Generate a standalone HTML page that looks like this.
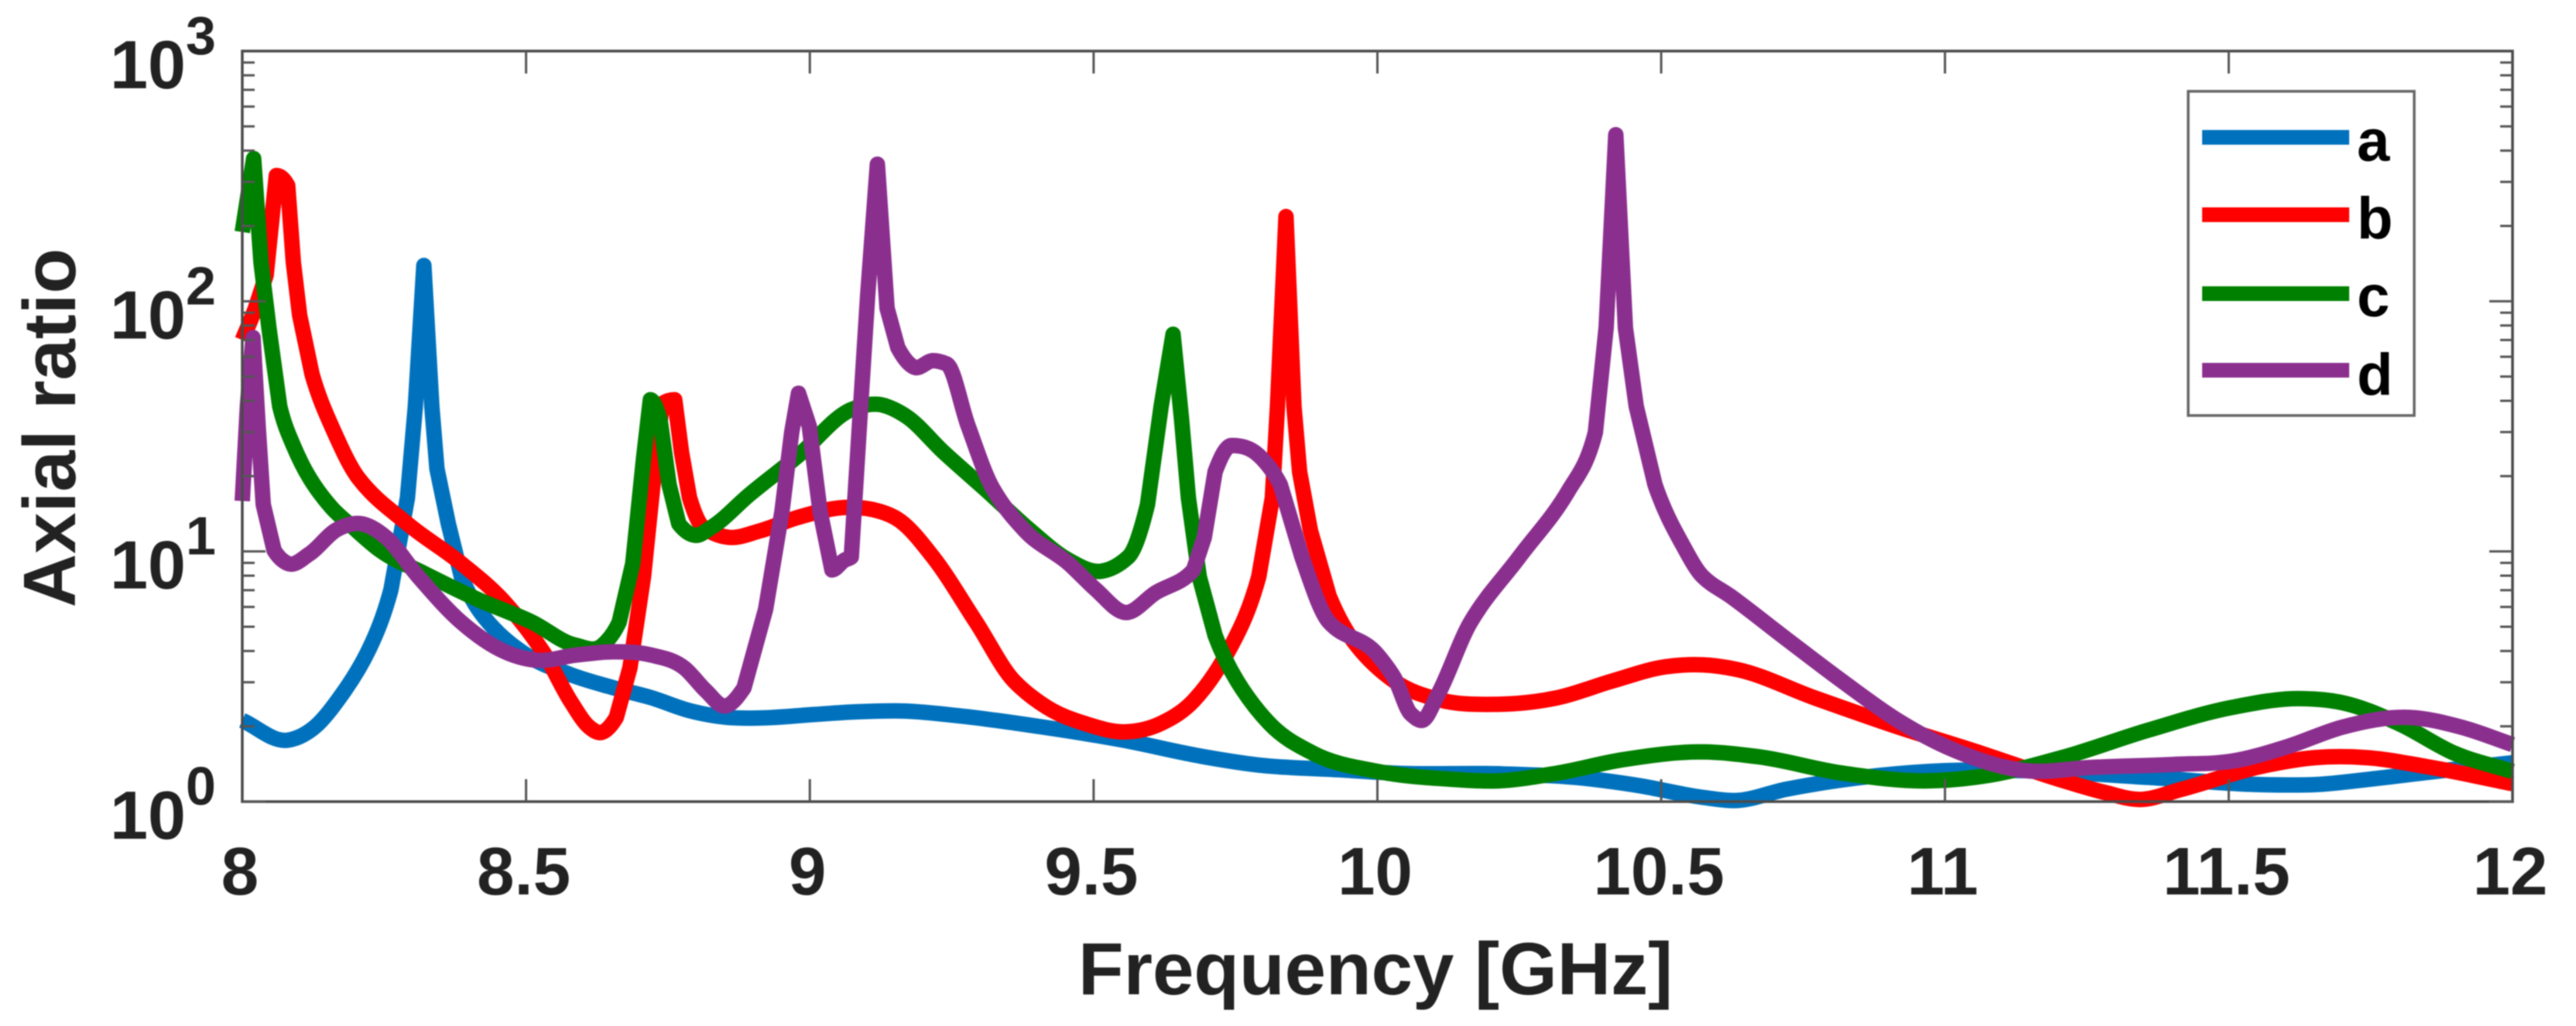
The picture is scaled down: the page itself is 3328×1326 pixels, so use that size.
<!DOCTYPE html>
<html lang="en">
<head>
<meta charset="utf-8">
<title>Axial ratio vs frequency</title>
<style>
html,body{margin:0;padding:0;background:#fff;width:3328px;height:1326px;overflow:hidden}
svg{display:block}
text{font-family:"Liberation Sans",Arial,sans-serif;font-weight:bold}
</style>
</head>
<body>
<svg id="chart" xmlns="http://www.w3.org/2000/svg" width="3328" height="1326" viewBox="0 0 3328 1326">
  <g id="content" style="filter:blur(0.9px)">
    <g id="series-layer"></g>
    <g id="axes-layer"></g>
    <g id="legend">
      <rect x="2827" y="118" width="292" height="419" fill="#fff" stroke="#666" stroke-width="3.5"/>
      <rect x="2845" y="168" width="190" height="19" fill="#0072BD"/>
      <rect x="2845" y="268" width="190" height="19" fill="#FF0000"/>
      <rect x="2845" y="370" width="190" height="19" fill="#008000"/>
      <rect x="2845" y="469" width="190" height="19" fill="#8B2F8F"/>
      <text x="3045" y="208" font-size="76" fill="#000">a</text>
      <text x="3045" y="308" font-size="76" fill="#000">b</text>
      <text x="3045" y="409" font-size="76" fill="#000">c</text>
      <text x="3045" y="510" font-size="76" fill="#000">d</text>
    </g>
    <text x="1777" y="1285" font-size="96" fill="#222" text-anchor="middle">Frequency [GHz]</text>
    <text transform="translate(97,553) rotate(-90)" font-size="96" fill="#222" text-anchor="middle">Axial ratio</text>
  </g>
</svg>
<script>
var xTicks = [8, 8.5, 9, 9.5, 10, 10.5, 11, 11.5, 12];
var xTickLabels = ["8", "8.5", "9", "9.5", "10", "10.5", "11", "11.5", "12"];
var yExponents = [0, 1, 2, 3];
var yTickBase = "10";

var freqA = [8,8.08,8.128,8.176,8.224,8.262,8.291,8.305,8.32,8.334,8.343,8.363,8.386,8.434,8.501,8.578,8.654,8.721,8.788,8.855,8.913,9.008,9.073,9.169,9.265,9.408,9.552,9.695,9.791,9.934,10.03,10.221,10.365,10.46,10.573,10.632,10.72,10.868,11,11.142,11.358,11.555,11.653,11.75,11.839,12];
var valsA = [2.11,1.76,1.99,2.69,4.09,7.04,16.4,38,139,38,21.4,12.9,7.94,5.2,3.85,3.22,2.85,2.6,2.31,2.17,2.16,2.23,2.28,2.3,2.2,1.99,1.76,1.51,1.4,1.34,1.3,1.29,1.24,1.16,1.04,1.01,1.12,1.26,1.33,1.33,1.25,1.17,1.17,1.23,1.3,1.43];

var freqB = [8,8.023,8.042,8.06,8.08,8.09,8.101,8.123,8.157,8.205,8.291,8.386,8.463,8.53,8.578,8.611,8.633,8.659,8.683,8.707,8.726,8.74,8.762,8.774,8.788,8.812,8.855,8.913,8.98,9.073,9.111,9.16,9.217,9.293,9.36,9.418,9.485,9.556,9.618,9.676,9.743,9.791,9.815,9.824,9.839,9.853,9.863,9.882,9.915,9.963,10.03,10.107,10.212,10.317,10.413,10.508,10.5735,10.632,10.77,10.917,11.064,11.2,11.28,11.344,11.417,11.555,11.653,11.741,11.849,12];
var valsB = [70,93.7,127,318,290,143,88,51,31.8,19.6,12.9,8.95,6.24,3.97,2.53,1.99,1.89,2.17,3.42,7.94,20.8,39,40.4,24.9,16.4,12.5,11.4,12.1,13.7,15,14.7,13.2,9.5,5.21,3.03,2.38,2.05,1.9,2.05,2.53,4.22,7.94,16.4,38,218,38,20.8,12.1,6.63,4.22,3.03,2.56,2.45,2.6,3.03,3.46,3.52,3.38,2.6,1.99,1.56,1.23,1.09,1.02,1.12,1.38,1.5,1.5,1.38,1.18];

var freqC = [8,8.02,8.033,8.047,8.066,8.09,8.119,8.157,8.195,8.243,8.32,8.415,8.511,8.587,8.635,8.664,8.688,8.707,8.719,8.736,8.752,8.769,8.798,8.827,8.894,8.98,9.073,9.121,9.169,9.236,9.313,9.389,9.456,9.513,9.561,9.595,9.619,9.64,9.655,9.667,9.686,9.714,9.753,9.81,9.887,10.001,10.126,10.212,10.317,10.432,10.573,10.672,10.819,10.966,11.064,11.211,11.358,11.506,11.623,11.702,11.8,11.898,12];
var valsC = [189,372,143,78,38,26.5,19.6,15,12.5,10.1,8.18,6.43,5.21,4.22,4.22,5.21,8.95,23.5,40.4,33.7,18.5,12.9,11.6,12.5,16.9,24.2,36.9,38.7,34.8,24.9,17.4,12.1,9.23,8.33,9.5,15.4,38,73.8,33.7,16.4,7.94,4.62,3.03,2.05,1.56,1.32,1.23,1.21,1.3,1.47,1.58,1.51,1.3,1.21,1.26,1.51,1.93,2.38,2.58,2.48,2.05,1.56,1.32];

var freqD = [8,8.009,8.019,8.028,8.037,8.056,8.08,8.119,8.166,8.21,8.253,8.31,8.386,8.463,8.52,8.587,8.654,8.721,8.779,8.817,8.85,8.884,8.922,8.951,8.968,8.98,8.999,9.018,9.039,9.061,9.073,9.088,9.102,9.119,9.136,9.155,9.183,9.217,9.241,9.279,9.322,9.379,9.456,9.504,9.556,9.609,9.676,9.695,9.714,9.743,9.791,9.829,9.867,9.915,10.001,10.03,10.059,10.078,10.107,10.164,10.25,10.336,10.384,10.403,10.42,10.437,10.456,10.489,10.537,10.573,10.622,10.72,10.819,10.917,11.015,11.142,11.26,11.407,11.505,11.604,11.702,11.819,11.908,12];
var valsD = [15.9,38,71.6,31.7,15.4,10.1,8.95,9.8,12.2,12.9,11.4,7.94,5.21,3.97,3.67,3.85,3.97,3.85,3.42,2.77,2.41,2.85,5.87,14.5,29.9,42.9,31.7,14.5,8.43,9.23,9.5,33.7,106,353,93.8,65.3,54.6,57.9,56.2,31.7,17.9,12.1,8.95,7.04,5.7,6.83,8.43,11.4,20.8,26.5,24.2,18.5,9.5,5.21,3.85,3.12,2.24,2.11,2.69,5.21,9.5,17.4,29.9,78.3,463,78.3,38,18.5,10.7,7.94,6.63,4.48,3.03,2.11,1.61,1.33,1.37,1.41,1.45,1.66,1.99,2.17,1.99,1.69];

var NS = "http://www.w3.org/2000/svg";
var plotLeft = 313, plotRight = 3246, plotTop = 66, plotBottom = 1036;
var steepSlope = 3;
var shallowSlope = 1.5;

function xScale(f) {
  return plotLeft + (f - 8) / 4 * (plotRight - plotLeft);
}
function yScale(v) {
  return plotBottom - Math.log(v) / Math.LN10 / 3 * (plotBottom - plotTop);
}

function smoothPath(px, py) {
  var n = px.length, d = [], m = [], i;
  for (i = 0; i < n - 1; i++) {
    d.push((py[i + 1] - py[i]) / (px[i + 1] - px[i]));
  }
  m.push(d[0]);
  for (i = 1; i < n - 1; i++) {
    var h0 = px[i] - px[i - 1], h1 = px[i + 1] - px[i];
    if (Math.abs(d[i - 1]) < shallowSlope && Math.abs(d[i]) < shallowSlope) {
      m.push((h1 * d[i - 1] + h0 * d[i]) / (h0 + h1));
    } else if (d[i - 1] * d[i] <= 0) {
      m.push(0);
    } else {
      m.push(3 * (h0 + h1) / ((2 * h1 + h0) / d[i - 1] + (h1 + 2 * h0) / d[i]));
    }
  }
  m.push(d[n - 2]);
  var s = "M" + px[0].toFixed(1) + " " + py[0].toFixed(1);
  for (i = 0; i < n - 1; i++) {
    if (Math.abs(d[i]) > steepSlope) {
      s += "L" + px[i + 1].toFixed(1) + " " + py[i + 1].toFixed(1);
      continue;
    }
    var h = (px[i + 1] - px[i]) / 3;
    s += "C" + (px[i] + h).toFixed(1) + " " + (py[i] + m[i] * h).toFixed(1) + " " +
      (px[i + 1] - h).toFixed(1) + " " + (py[i + 1] - m[i + 1] * h).toFixed(1) + " " +
      px[i + 1].toFixed(1) + " " + py[i + 1].toFixed(1);
  }
  return s;
}

function drawSeries(name, color, freq, vals) {
  var path = document.createElementNS(NS, "path");
  
  
  path.setAttribute("d", smoothPath(freq.map(xScale), vals.map(yScale)));
  path.setAttribute("fill", "none");
  path.setAttribute("stroke", color);
  path.setAttribute("stroke-width", "20");
  path.setAttribute("stroke-linejoin", "round");
  path.setAttribute("stroke-linecap", "butt");
  document.getElementById("series-layer").appendChild(path);
}
drawSeries("series-a", "#0072BD", freqA, valsA);
drawSeries("series-b", "#FF0000", freqB, valsB);
drawSeries("series-c", "#008000", freqC, valsC);
drawSeries("series-d", "#8B2F8F", freqD, valsD);

var axes = document.getElementById("axes-layer");

function tickLine(name, x1, y1, x2, y2) {
  var l = document.createElementNS(NS, "line");
  
  
  l.setAttribute("x1", x1);
  l.setAttribute("y1", y1);
  l.setAttribute("x2", x2);
  l.setAttribute("y2", y2);
  l.setAttribute("stroke", "#555");
  l.setAttribute("stroke-width", "3");
  axes.appendChild(l);
}

var frame = document.createElementNS(NS, "rect");


frame.setAttribute("x", plotLeft);
frame.setAttribute("y", plotTop);
frame.setAttribute("width", plotRight - plotLeft);
frame.setAttribute("height", plotBottom - plotTop);
frame.setAttribute("fill", "none");
frame.setAttribute("stroke", "#4a4a4a");
frame.setAttribute("stroke-width", "3.5");
axes.appendChild(frame);

xTicks.forEach(function (t, i) {
  var x = xScale(t);
  if (i > 0 && i < xTicks.length - 1) {
    tickLine("x-tick-bottom", x, plotBottom, x, plotBottom - 29);
    tickLine("x-tick-top", x, plotTop, x, plotTop + 29);
  }
  var label = document.createElementNS(NS, "text");
  
  
  label.setAttribute("x", x - 3);
  label.setAttribute("y", 1156);
  label.setAttribute("font-size", "87");
  label.setAttribute("fill", "#222");
  label.setAttribute("text-anchor", "middle");
  label.textContent = xTickLabels[i];
  document.getElementById("content").appendChild(label);
});

yExponents.forEach(function (e) {
  var v = Math.pow(10, e);
  var y = yScale(v);
  if (e < 3) {
    tickLine("y-tick-left", plotLeft, y, plotLeft + 30, y);
    tickLine("y-tick-right", plotRight, y, plotRight - 30, y);
    for (var k = 2; k <= 9; k++) {
      var my = yScale(k * v);
      tickLine("y-minor-tick-left", plotLeft, my, plotLeft + 16, my);
      tickLine("y-minor-tick-right", plotRight, my, plotRight - 16, my);
    }
  }
  var label = document.createElementNS(NS, "text");
  
  
  label.setAttribute("fill", "#222");
  var base = document.createElementNS(NS, "tspan");
  base.setAttribute("x", 240);
  base.setAttribute("y", y + 48);
  base.setAttribute("font-size", "88");
  base.setAttribute("text-anchor", "end");
  base.textContent = yTickBase;
  label.appendChild(base);
  var sup = document.createElementNS(NS, "tspan");
  sup.setAttribute("x", 240);
  sup.setAttribute("y", y + 4);
  sup.setAttribute("font-size", "70");
  sup.textContent = String(e);
  label.appendChild(sup);
  document.getElementById("content").appendChild(label);
});
</script>
</body>
</html>
